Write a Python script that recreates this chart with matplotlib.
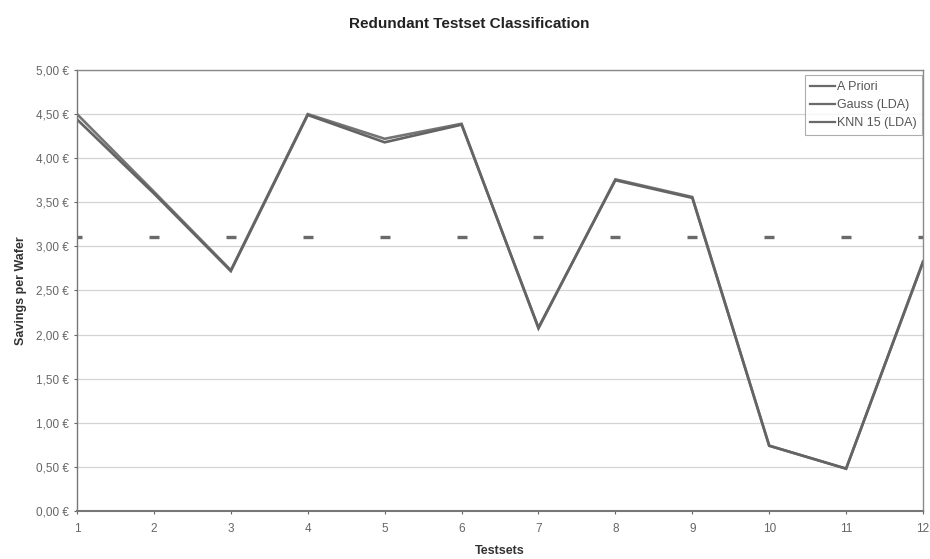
import matplotlib
matplotlib.use("Agg")
import matplotlib.pyplot as plt
from matplotlib.lines import Line2D
from matplotlib.ticker import FuncFormatter

plt.rcParams['font.family'] = ['Liberation Sans', 'DejaVu Sans']

testsets = list(range(1, 13))
a_priori = [3.11] * 12
gauss = [4.50, 3.62, 2.73, 4.50, 4.22, 4.39, 2.07, 3.76, 3.56, 0.74, 0.48, 2.83]
knn = [4.44, 3.60, 2.72, 4.49, 4.18, 4.38, 2.08, 3.75, 3.55, 0.74, 0.48, 2.82]
series_names = ["A Priori", "Gauss (LDA)", "KNN 15 (LDA)"]

fig = plt.figure(figsize=(9.3, 5.59), dpi=100)
ax = fig.add_axes([0.0828, 0.0859, 0.9097, 0.7889])

col = "#6a6a6a"
ax.plot(testsets, a_priori, linestyle="none", marker="_", markersize=7, markeredgewidth=2.4, color=col)
ax.plot(testsets, gauss, color="#747474", lw=1.9, solid_joinstyle="miter")
ax.plot(testsets, knn, color="#646464", lw=1.9, solid_joinstyle="miter")

ax.set_xlim(1, 12)
ax.set_ylim(0, 5)
ax.set_xticks(testsets)
ax.set_yticks([i * 0.5 for i in range(11)])
ax.yaxis.set_major_formatter(FuncFormatter(lambda v, p: f"{v:.2f} €".replace(".", ",")))
ax.grid(axis="y", color="#d4d4d4", lw=0.9)
ax.set_axisbelow(True)
for s in ax.spines.values():
    s.set_color("#8a8a8a")
    s.set_linewidth(1.0)
ax.spines["left"].set_color("#777777")
ax.spines["bottom"].set_color("#777777")
ax.spines["bottom"].set_linewidth(1.5)
ax.tick_params(axis="both", labelsize=8.5, colors="#666666", length=2)
ax.tick_params(axis="x", pad=7)
ax.tick_params(axis="y", pad=4)
ax.set_xlabel("Testsets", fontsize=9, fontweight="bold", color="#333333", labelpad=7)
ax.set_ylabel("Savings per Wafer", fontsize=9, fontweight="bold", color="#333333", labelpad=6)
fig.suptitle("Redundant Testset Classification", x=0.505, y=0.97, fontsize=11, fontweight="bold", color="#222222")

handles = [Line2D([0], [0], color=col, lw=1.6) for _ in series_names]
leg = ax.legend(handles, series_names, loc="upper right", fontsize=9, frameon=True, fancybox=False,
                handlelength=2.0, handletextpad=0.1, borderaxespad=0.0, labelspacing=0.5,
                borderpad=0.45, bbox_to_anchor=(0.9985, 0.988))
leg.get_frame().set_edgecolor("#999999")
leg.get_frame().set_linewidth(0.8)
for t in leg.get_texts():
    t.set_color("#555555")

fig.savefig("out.png", dpi=100)
